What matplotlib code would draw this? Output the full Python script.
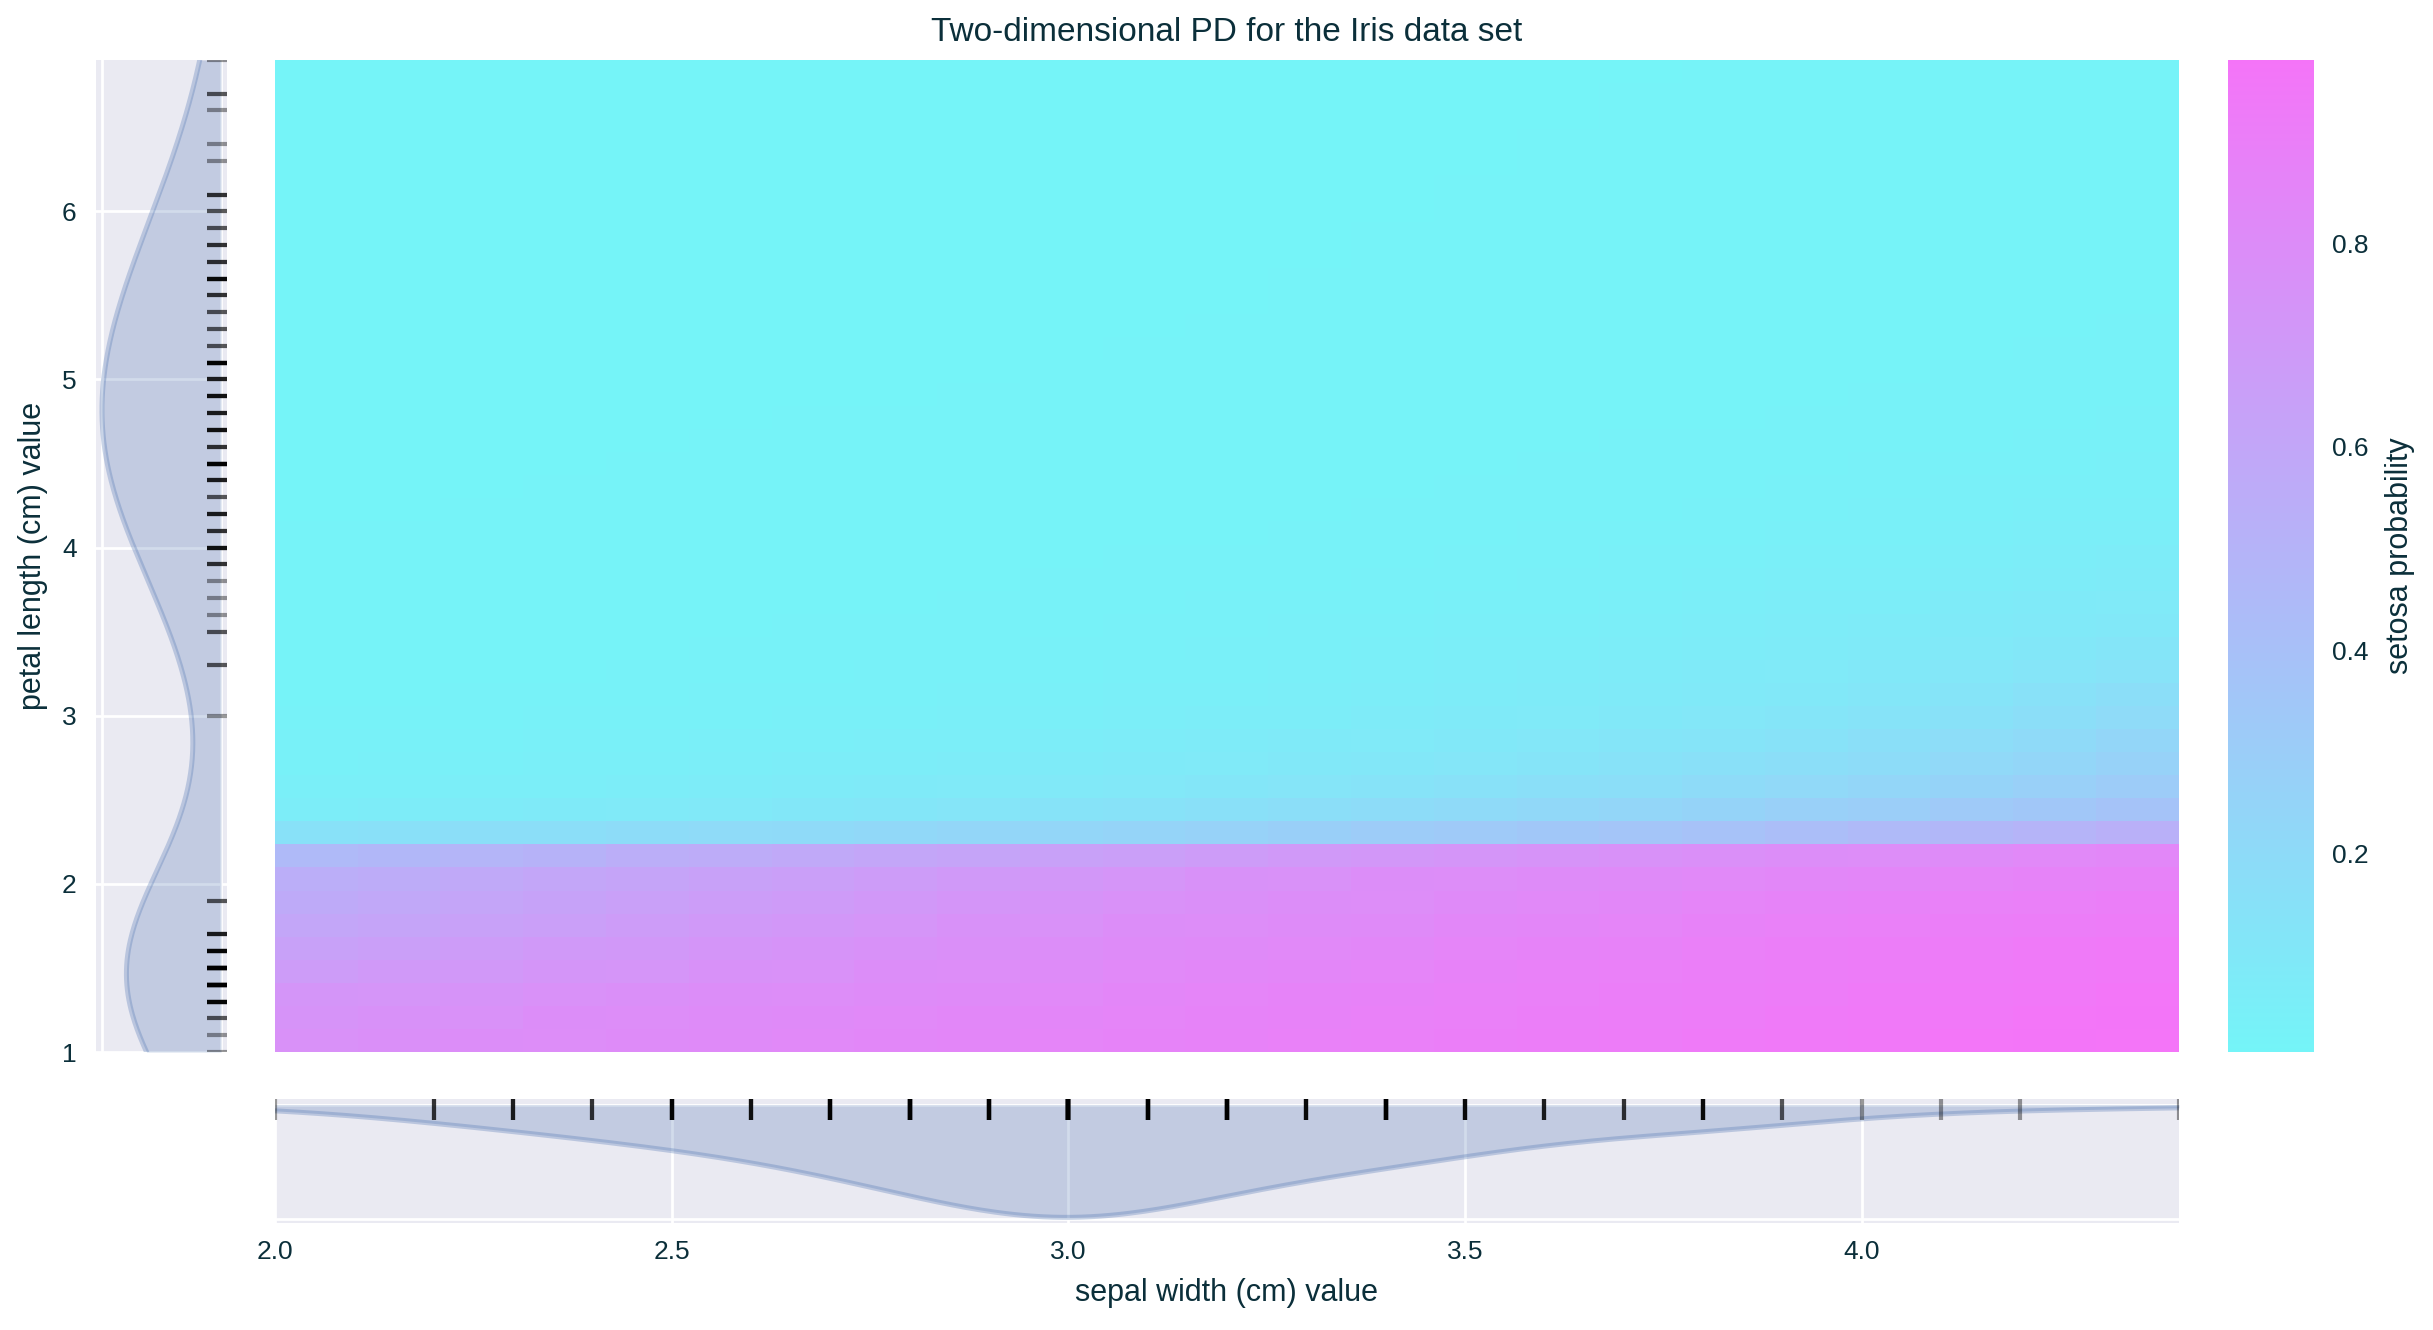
import numpy as np
import matplotlib
matplotlib.use("Agg")
import matplotlib.pyplot as plt
from matplotlib.transforms import blended_transform_factory

# ---------------- data ----------------
petal_length_values = [1.0, 1.1, 1.2, 1.3, 1.4, 1.5, 1.6, 1.7, 1.9, 3.0, 3.3, 3.5, 3.6, 3.7, 3.8,
                       3.9, 4.0, 4.1, 4.2, 4.3, 4.4, 4.5, 4.6, 4.7, 4.8, 4.9, 5.0, 5.1, 5.2, 5.3,
                       5.4, 5.5, 5.6, 5.7, 5.8, 5.9, 6.0, 6.1, 6.3, 6.4, 6.6, 6.7, 6.9]
petal_length_counts = [1, 1, 2, 7, 13, 13, 7, 4, 2, 1, 2, 2, 1, 1, 1,
                       3, 5, 3, 4, 2, 4, 8, 3, 5, 4, 5, 4, 8, 2, 2,
                       2, 3, 6, 3, 3, 2, 2, 3, 1, 1, 1, 2, 1]
sepal_width_values = [2.0, 2.2, 2.3, 2.4, 2.5, 2.6, 2.7, 2.8, 2.9, 3.0, 3.1, 3.2, 3.3, 3.4, 3.5,
                      3.6, 3.7, 3.8, 3.9, 4.0, 4.1, 4.2, 4.4]
sepal_width_counts = [1, 3, 4, 3, 8, 5, 9, 14, 10, 26, 11, 13, 6, 12, 6,
                      4, 3, 6, 2, 1, 1, 1, 1]

# partial dependence of setosa probability: rows = petal length (ascending), cols = sepal width
setosa_prob = [
    [0.77, 0.78, 0.79, 0.80, 0.81, 0.82, 0.83, 0.84, 0.85, 0.86, 0.87, 0.88, 0.89, 0.90, 0.91, 0.92, 0.93, 0.94, 0.95, 0.96, 0.97, 0.975, 0.98],
    [0.75, 0.76, 0.77, 0.79, 0.80, 0.81, 0.82, 0.83, 0.84, 0.85, 0.86, 0.87, 0.88, 0.89, 0.90, 0.91, 0.92, 0.93, 0.94, 0.95, 0.96, 0.97, 0.975],
    [0.73, 0.74, 0.75, 0.77, 0.78, 0.79, 0.80, 0.81, 0.82, 0.83, 0.85, 0.86, 0.87, 0.88, 0.89, 0.90, 0.91, 0.92, 0.93, 0.94, 0.95, 0.96, 0.97],
    [0.68, 0.70, 0.71, 0.73, 0.74, 0.76, 0.77, 0.79, 0.80, 0.81, 0.83, 0.84, 0.85, 0.86, 0.88, 0.89, 0.90, 0.91, 0.92, 0.93, 0.94, 0.95, 0.96],
    [0.64, 0.66, 0.68, 0.70, 0.71, 0.73, 0.75, 0.76, 0.78, 0.79, 0.81, 0.82, 0.83, 0.84, 0.86, 0.87, 0.88, 0.90, 0.91, 0.92, 0.93, 0.94, 0.95],
    [0.60, 0.62, 0.64, 0.66, 0.68, 0.70, 0.72, 0.74, 0.76, 0.77, 0.79, 0.80, 0.81, 0.82, 0.84, 0.85, 0.86, 0.88, 0.89, 0.90, 0.91, 0.92, 0.93],
    [0.57, 0.59, 0.61, 0.63, 0.65, 0.67, 0.69, 0.71, 0.73, 0.75, 0.77, 0.78, 0.79, 0.80, 0.82, 0.83, 0.84, 0.86, 0.87, 0.88, 0.89, 0.90, 0.91],
    [0.54, 0.56, 0.58, 0.60, 0.62, 0.64, 0.66, 0.68, 0.70, 0.72, 0.74, 0.76, 0.77, 0.79, 0.80, 0.81, 0.82, 0.83, 0.84, 0.85, 0.86, 0.87, 0.88],
    [0.45, 0.47, 0.49, 0.51, 0.54, 0.56, 0.58, 0.60, 0.62, 0.64, 0.66, 0.68, 0.70, 0.72, 0.73, 0.75, 0.76, 0.78, 0.79, 0.80, 0.81, 0.83, 0.84],
    [0.15, 0.16, 0.17, 0.18, 0.19, 0.20, 0.21, 0.22, 0.23, 0.24, 0.25, 0.27, 0.29, 0.31, 0.33, 0.35, 0.37, 0.39, 0.42, 0.45, 0.47, 0.50, 0.53],
    [0.060, 0.066, 0.073, 0.080, 0.088, 0.096, 0.105, 0.115, 0.125, 0.136, 0.148, 0.161, 0.175, 0.190, 0.206, 0.223, 0.241, 0.260, 0.280, 0.300, 0.325, 0.350, 0.380],
    [0.040, 0.044, 0.049, 0.054, 0.060, 0.066, 0.072, 0.079, 0.087, 0.095, 0.104, 0.114, 0.125, 0.137, 0.150, 0.165, 0.180, 0.197, 0.215, 0.235, 0.260, 0.285, 0.310],
    [0.030, 0.033, 0.037, 0.041, 0.045, 0.050, 0.055, 0.060, 0.066, 0.072, 0.080, 0.088, 0.097, 0.107, 0.118, 0.130, 0.143, 0.158, 0.175, 0.195, 0.215, 0.240, 0.270],
    [0.025, 0.027, 0.030, 0.033, 0.036, 0.040, 0.044, 0.048, 0.053, 0.058, 0.064, 0.070, 0.078, 0.087, 0.097, 0.108, 0.120, 0.133, 0.148, 0.165, 0.185, 0.210, 0.240],
    [0.020, 0.021, 0.023, 0.025, 0.028, 0.031, 0.034, 0.037, 0.041, 0.045, 0.050, 0.055, 0.062, 0.070, 0.078, 0.087, 0.097, 0.110, 0.120, 0.135, 0.150, 0.170, 0.200],
    [0.015, 0.016, 0.018, 0.020, 0.022, 0.025, 0.028, 0.030, 0.033, 0.036, 0.040, 0.044, 0.050, 0.056, 0.063, 0.070, 0.080, 0.090, 0.100, 0.115, 0.130, 0.150, 0.170],
    [0.012, 0.013, 0.014, 0.016, 0.018, 0.020, 0.022, 0.025, 0.028, 0.031, 0.035, 0.039, 0.044, 0.050, 0.056, 0.063, 0.070, 0.078, 0.087, 0.097, 0.110, 0.125, 0.140],
    [0.011, 0.012, 0.013, 0.014, 0.015, 0.017, 0.019, 0.021, 0.024, 0.027, 0.030, 0.034, 0.038, 0.043, 0.048, 0.054, 0.060, 0.067, 0.075, 0.084, 0.095, 0.107, 0.120],
    [0.010, 0.011, 0.012, 0.013, 0.014, 0.015, 0.017, 0.019, 0.021, 0.023, 0.026, 0.029, 0.032, 0.036, 0.041, 0.046, 0.051, 0.057, 0.064, 0.072, 0.081, 0.091, 0.100],
    [0.010, 0.010, 0.011, 0.012, 0.013, 0.014, 0.015, 0.016, 0.018, 0.020, 0.022, 0.025, 0.028, 0.031, 0.035, 0.039, 0.044, 0.049, 0.055, 0.062, 0.070, 0.078, 0.088],
    [0.010, 0.010, 0.010, 0.011, 0.012, 0.013, 0.014, 0.015, 0.016, 0.018, 0.020, 0.022, 0.024, 0.027, 0.030, 0.034, 0.038, 0.042, 0.047, 0.053, 0.060, 0.067, 0.075],
    [0.009, 0.009, 0.010, 0.010, 0.011, 0.012, 0.012, 0.013, 0.014, 0.016, 0.017, 0.019, 0.021, 0.023, 0.026, 0.029, 0.032, 0.036, 0.040, 0.045, 0.050, 0.056, 0.063],
    [0.009, 0.009, 0.009, 0.010, 0.010, 0.011, 0.011, 0.012, 0.013, 0.014, 0.015, 0.016, 0.018, 0.020, 0.022, 0.025, 0.028, 0.031, 0.034, 0.038, 0.042, 0.047, 0.053],
    [0.008, 0.008, 0.009, 0.009, 0.010, 0.010, 0.011, 0.011, 0.012, 0.013, 0.014, 0.015, 0.016, 0.018, 0.020, 0.022, 0.024, 0.027, 0.030, 0.033, 0.036, 0.040, 0.045],
    [0.008, 0.008, 0.008, 0.009, 0.009, 0.010, 0.010, 0.011, 0.011, 0.012, 0.013, 0.014, 0.015, 0.016, 0.018, 0.020, 0.022, 0.024, 0.026, 0.029, 0.032, 0.035, 0.039],
    [0.008, 0.008, 0.008, 0.008, 0.009, 0.009, 0.010, 0.010, 0.011, 0.011, 0.012, 0.013, 0.014, 0.015, 0.016, 0.018, 0.019, 0.021, 0.023, 0.026, 0.028, 0.031, 0.034],
    [0.007, 0.007, 0.008, 0.008, 0.008, 0.009, 0.009, 0.009, 0.010, 0.010, 0.011, 0.012, 0.012, 0.013, 0.014, 0.015, 0.017, 0.018, 0.020, 0.022, 0.024, 0.027, 0.030],
    [0.007, 0.007, 0.007, 0.008, 0.008, 0.008, 0.009, 0.009, 0.009, 0.010, 0.010, 0.011, 0.011, 0.012, 0.013, 0.014, 0.015, 0.016, 0.018, 0.020, 0.022, 0.024, 0.027],
    [0.006, 0.006, 0.007, 0.007, 0.007, 0.008, 0.008, 0.008, 0.009, 0.009, 0.009, 0.010, 0.010, 0.011, 0.012, 0.013, 0.014, 0.015, 0.016, 0.018, 0.020, 0.022, 0.024],
    [0.006, 0.006, 0.006, 0.007, 0.007, 0.007, 0.008, 0.008, 0.008, 0.009, 0.009, 0.009, 0.010, 0.010, 0.011, 0.012, 0.013, 0.014, 0.015, 0.016, 0.018, 0.020, 0.022],
    [0.006, 0.006, 0.006, 0.006, 0.007, 0.007, 0.007, 0.008, 0.008, 0.008, 0.009, 0.009, 0.009, 0.010, 0.010, 0.011, 0.012, 0.013, 0.014, 0.015, 0.016, 0.018, 0.020],
    [0.005, 0.006, 0.006, 0.006, 0.006, 0.007, 0.007, 0.007, 0.008, 0.008, 0.008, 0.009, 0.009, 0.009, 0.010, 0.010, 0.011, 0.012, 0.013, 0.014, 0.015, 0.016, 0.018],
    [0.005, 0.005, 0.006, 0.006, 0.006, 0.006, 0.007, 0.007, 0.007, 0.008, 0.008, 0.008, 0.009, 0.009, 0.009, 0.010, 0.010, 0.011, 0.012, 0.012, 0.013, 0.014, 0.016],
    [0.005, 0.005, 0.006, 0.006, 0.006, 0.006, 0.007, 0.007, 0.007, 0.008, 0.008, 0.008, 0.009, 0.009, 0.009, 0.010, 0.010, 0.011, 0.012, 0.012, 0.013, 0.014, 0.015],
    [0.005, 0.005, 0.005, 0.006, 0.006, 0.006, 0.006, 0.007, 0.007, 0.007, 0.008, 0.008, 0.008, 0.009, 0.009, 0.009, 0.010, 0.010, 0.011, 0.012, 0.012, 0.013, 0.014],
    [0.005, 0.005, 0.005, 0.006, 0.006, 0.006, 0.006, 0.007, 0.007, 0.007, 0.008, 0.008, 0.008, 0.009, 0.009, 0.009, 0.010, 0.010, 0.011, 0.011, 0.012, 0.013, 0.014],
    [0.005, 0.005, 0.005, 0.005, 0.006, 0.006, 0.006, 0.006, 0.007, 0.007, 0.007, 0.008, 0.008, 0.008, 0.009, 0.009, 0.009, 0.010, 0.010, 0.011, 0.011, 0.012, 0.013],
    [0.005, 0.005, 0.005, 0.005, 0.006, 0.006, 0.006, 0.006, 0.007, 0.007, 0.007, 0.008, 0.008, 0.008, 0.009, 0.009, 0.009, 0.010, 0.010, 0.011, 0.011, 0.012, 0.013],
    [0.005, 0.005, 0.005, 0.005, 0.005, 0.006, 0.006, 0.006, 0.006, 0.007, 0.007, 0.007, 0.008, 0.008, 0.008, 0.009, 0.009, 0.009, 0.010, 0.010, 0.011, 0.011, 0.012],
    [0.005, 0.005, 0.005, 0.005, 0.005, 0.006, 0.006, 0.006, 0.006, 0.007, 0.007, 0.007, 0.008, 0.008, 0.008, 0.009, 0.009, 0.009, 0.010, 0.010, 0.011, 0.011, 0.012],
    [0.005, 0.005, 0.005, 0.005, 0.005, 0.005, 0.006, 0.006, 0.006, 0.006, 0.007, 0.007, 0.007, 0.008, 0.008, 0.008, 0.009, 0.009, 0.009, 0.010, 0.010, 0.011, 0.011],
    [0.005, 0.005, 0.005, 0.005, 0.005, 0.005, 0.006, 0.006, 0.006, 0.006, 0.007, 0.007, 0.007, 0.008, 0.008, 0.008, 0.009, 0.009, 0.009, 0.010, 0.010, 0.011, 0.011],
    [0.005, 0.005, 0.005, 0.005, 0.005, 0.005, 0.005, 0.006, 0.006, 0.006, 0.006, 0.007, 0.007, 0.007, 0.008, 0.008, 0.008, 0.009, 0.009, 0.009, 0.010, 0.010, 0.011],
]

title = "Two-dimensional PD for the Iris data set"
x_label = "sepal width (cm) value"
y_label = "petal length (cm) value"
cbar_label = "setosa probability"
x_ticks = [2.0, 2.5, 3.0, 3.5, 4.0]
y_ticks = [1, 2, 3, 4, 5, 6]
cbar_ticks = [0.2, 0.4, 0.6, 0.8]

# ---------------- style ----------------
TEXT = "#0b2f3a"
BG = "#EAEAF2"
KDE_COLOR = "#4C72B0"
plt.rcParams["font.family"] = ["Liberation Sans", "DejaVu Sans"]
plt.rcParams["text.color"] = TEXT
plt.rcParams["axes.labelcolor"] = TEXT
plt.rcParams["xtick.color"] = TEXT
plt.rcParams["ytick.color"] = TEXT

W, H = 2433, 1330
DPI = 200
fig = plt.figure(figsize=(W / DPI, H / DPI), dpi=DPI)


def ax_px(x0, y0, x1, y1):
    return fig.add_axes([x0 / W, 1 - y1 / H, (x1 - x0) / W, (y1 - y0) / H])


def style(ax):
    ax.set_facecolor(BG)
    for s in ax.spines.values():
        s.set_visible(False)
    ax.set_axisbelow(True)
    ax.grid(True, color="white", lw=1.0)
    ax.tick_params(length=0, labelsize=9.5)


def kde(samples, grid):
    samples = np.asarray(samples, float)
    bw = samples.std(ddof=1) * len(samples) ** (-1 / 5)
    z = (grid[:, None] - samples[None, :]) / bw
    return np.exp(-0.5 * z ** 2).sum(axis=1) / (len(samples) * bw * np.sqrt(2 * np.pi))


ax_left = ax_px(96, 60, 227, 1052)
ax_heat = ax_px(275, 60, 2179, 1052)
ax_cbar = ax_px(2228, 60, 2314, 1052)
ax_bot = ax_px(275, 1099, 2179, 1223)

# ---------------- heatmap ----------------
pd_grid = np.array(setosa_prob)
ax_heat.set_facecolor(BG)
im = ax_heat.imshow(pd_grid, origin="lower", aspect="auto", cmap="cool", alpha=0.5,
                    interpolation="nearest",
                    extent=[min(sepal_width_values), max(sepal_width_values),
                            min(petal_length_values), max(petal_length_values)])
for s in ax_heat.spines.values():
    s.set_visible(False)
ax_heat.set_xticks([])
ax_heat.set_yticks([])
ax_heat.set_title(title, fontsize=12, pad=7, color=TEXT)

# ---------------- colorbar ----------------
ax_cbar.set_facecolor(BG)
cb = fig.colorbar(im, cax=ax_cbar)
cb.outline.set_visible(False)
cb.set_ticks(cbar_ticks)
cb.ax.tick_params(length=0, pad=6.5, labelsize=9.5, colors=TEXT)
cb.set_label(cbar_label, fontsize=11, labelpad=6, color=TEXT)

# ---------------- left marginal: petal length ----------------
style(ax_left)
pl_samples = np.repeat(petal_length_values, petal_length_counts)
y_grid = np.linspace(min(petal_length_values), max(petal_length_values), 400)
d_pl = kde(pl_samples, y_grid)
ax_left.fill_betweenx(y_grid, 0, d_pl, color=KDE_COLOR, alpha=0.25, lw=0)
ax_left.plot(d_pl, y_grid, color=KDE_COLOR, alpha=0.3, lw=1.8)
ax_left.set_ylim(min(petal_length_values), max(petal_length_values))
ax_left.set_xlim(d_pl.max() * 1.05, -d_pl.max() * 0.05)
ax_left.set_xticks([0, 0.25])
ax_left.set_xticklabels([])
ax_left.set_yticks(y_ticks)
ax_left.set_yticklabels([str(t) for t in y_ticks])
ax_left.tick_params(axis="y", pad=7)
ax_left.set_ylabel(y_label, fontsize=11, labelpad=5)
tr_l = blended_transform_factory(ax_left.transAxes, ax_left.transData)
for v in pl_samples:
    ax_left.plot([0.85, 1.0], [v, v], transform=tr_l, color="black", alpha=0.4,
                 lw=1.5, solid_capstyle="butt")

# ---------------- bottom marginal: sepal width ----------------
style(ax_bot)
sw_samples = np.repeat(sepal_width_values, sepal_width_counts)
x_grid = np.linspace(min(sepal_width_values), max(sepal_width_values), 400)
d_sw = kde(sw_samples, x_grid)
ax_bot.fill_between(x_grid, 0, d_sw, color=KDE_COLOR, alpha=0.25, lw=0)
ax_bot.plot(x_grid, d_sw, color=KDE_COLOR, alpha=0.3, lw=1.8)
ax_bot.set_xlim(min(sepal_width_values), max(sepal_width_values))
ax_bot.set_ylim(d_sw.max() * 1.05, -d_sw.max() * 0.05)
ax_bot.set_yticks([0, 1.0])
ax_bot.set_yticklabels([])
ax_bot.set_xticks(x_ticks)
ax_bot.set_xticklabels([f"{t:.1f}" for t in x_ticks])
ax_bot.tick_params(axis="x", pad=6)
ax_bot.set_xlabel(x_label, fontsize=11, labelpad=5)
tr_b = blended_transform_factory(ax_bot.transData, ax_bot.transAxes)
for v in sw_samples:
    ax_bot.plot([v, v], [0.83, 1.0], transform=tr_b, color="black", alpha=0.4,
                lw=1.5, solid_capstyle="butt")

fig.savefig("out.png", dpi=DPI)
